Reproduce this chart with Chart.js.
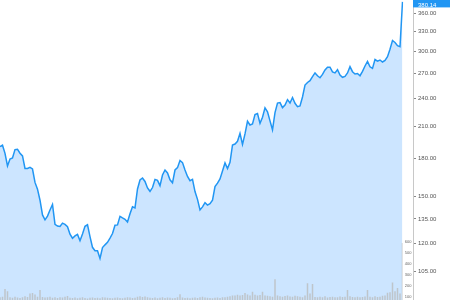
<!DOCTYPE html>
<html>
<head>
<meta charset="utf-8">
<script src="https://cdn.jsdelivr.net/npm/chart.js@4.4.1/dist/chart.umd.min.js"></script>
<style>
  html, body { margin: 0; padding: 0; background: #fff; }
  #wrap { width: 450px; height: 300px; position: relative; }
</style>
</head>
<body>
<div id="wrap"><canvas id="c"></canvas></div>
<script>
// closing prices
const prices = [
  190.5, 191.9, 184.6, 173.8, 179.7, 180.6, 187.9, 188.1, 184.7, 182.3,
  171.7, 171.7, 172.7, 171.3, 160.7, 155.6, 147.6, 137.6, 134.4, 136.8,
  140.9, 144.6, 131.6, 130.5, 130.2, 132.3, 131.5, 130.1, 125.5, 123.1,
  124.5, 125.4, 121.7, 125.7, 130.3, 131.3, 124.1, 117.9, 116.0, 116.0,
  111.8, 117.8, 119.3, 120.7, 123.2, 125.9, 131.0, 131.2, 136.7, 135.7,
  134.8, 133.0, 138.4, 143.0, 142.3, 155.7, 162.6, 164.1, 161.4, 156.5,
  154.0, 156.8, 163.0, 162.3, 158.2, 166.5, 170.5, 168.1, 162.7, 160.4,
  170.5, 172.4, 178.4, 176.6, 170.5, 165.3, 162.0, 163.0, 153.8, 148.2,
  140.9, 143.0, 145.9, 144.2, 145.2, 147.6, 157.5, 160.1, 163.4, 169.6,
  176.3, 171.6, 176.9, 192.1, 193.0, 195.5, 203.1, 192.6, 202.5, 215.1,
  211.3, 212.3, 222.0, 223.1, 213.0, 219.3, 229.3, 225.1, 215.5, 206.5,
  224.1, 234.6, 235.1, 229.6, 232.5, 238.5, 234.7, 240.9, 234.4, 230.6,
  231.4, 241.5, 255.7, 258.8, 261.0, 266.1, 270.9, 267.2, 264.7, 269.0,
  274.7, 278.4, 278.4, 272.2, 270.9, 275.1, 268.2, 265.3, 266.5, 270.8,
  279.1, 272.5, 269.5, 270.2, 267.3, 272.9, 280.0, 286.3, 278.9, 276.8,
  288.8, 286.5, 288.1, 285.4, 287.5, 292.6, 303.2, 316.2, 313.2, 308.5,
  307.0, 380.14
];

// volume, same days
const volumes = [
  95, 100, 170, 150, 95, 90, 100, 92, 88, 96,
  105, 98, 130, 134, 120, 100, 160, 98, 92, 95,
  100, 90, 94, 88, 96, 92, 100, 106, 90, 88,
  92, 86, 90, 95, 88, 84, 90, 92, 88, 90,
  86, 95, 92, 90, 88, 85, 90, 92, 88, 86,
  90, 94, 92, 88, 90, 100, 104, 98, 102, 96,
  90, 88, 92, 86, 90, 95, 88, 92, 90, 86,
  88, 94, 122, 92, 88, 90, 86, 90, 92, 88,
  95, 100, 92, 90, 88, 86, 90, 92, 88, 94,
  96, 100, 105, 110, 112, 118, 110, 115, 134, 120,
  112, 145, 118, 110, 116, 145, 112, 108, 104, 100,
  258, 110, 104, 100, 106, 110, 102, 100, 108, 104,
  100, 96, 110, 222, 130, 215, 98, 94, 100, 96,
  104, 92, 98, 100, 94, 96, 102, 98, 100, 160,
  104, 98, 96, 100, 94, 98, 102, 160, 100, 96,
  104, 98, 100, 108, 112, 135, 140, 228, 150, 180,
  130, 588
];

const days = prices.map((p, i) => i + 1);

const priceTicks = [105, 120, 135, 150, 180, 210, 240, 270, 300, 330, 360];
const volumeTicks = [100, 200, 300, 400, 500, 600];

const lineBlue = '#2196f3';

// blue box with the last price on the price axis
const lastPriceLabel = {
  id: 'lastPriceLabel',
  afterDraw(chart) {
    const s = chart.scales.y;
    const last = prices[prices.length - 1];
    const yPix = s.getPixelForValue(last);
    const ctx = chart.ctx;
    ctx.save();
    ctx.fillStyle = lineBlue;
    ctx.fillRect(s.left, yPix - 10, chart.width - s.left, 15.5);
    ctx.fillStyle = '#fff';
    ctx.font = '6px "Liberation Sans", Arial, sans-serif';
    ctx.textBaseline = 'middle';
    ctx.textAlign = 'left';
    ctx.fillText(last.toFixed(2), s.left + 5, yPix + 3);
    ctx.restore();
  }
};

const ctx = document.getElementById('c').getContext('2d');

new Chart(ctx, {
  data: {
    labels: days,
    datasets: [
      {
        type: 'line',
        label: 'Price',
        data: prices,
        yAxisID: 'y',
        borderColor: lineBlue,
        borderWidth: 1.5,
        backgroundColor: '#cce5ff',
        fill: 'start',
        pointRadius: 0,
        tension: 0,
        order: 0
      },
      {
        type: 'bar',
        label: 'Volume',
        data: volumes,
        yAxisID: 'yv',
        backgroundColor: 'rgba(185,185,185,0.75)',
        barPercentage: 0.6,
        categoryPercentage: 1,
        order: 1
      }
    ]
  },
  options: {
    responsive: true,
    maintainAspectRatio: false,
    animation: false,
    layout: { padding: 0 },
    scales: {
      x: {
        type: 'category',
        display: false,
        offset: false
      },
      yv: {
        type: 'linear',
        position: 'right',
        weight: 0,
        min: 70,
        max: 2797,
        grid: { display: false },
        border: { display: false },
        ticks: {
          mirror: true,
          padding: 9,
          autoSkip: false,
          color: '#666',
          font: { size: 4, family: '"Liberation Sans", Arial, sans-serif' },
          callback: (v) => v
        },
        afterBuildTicks: (scale) => {
          scale.ticks = volumeTicks.map(v => ({ value: v }));
        },
        afterFit: (scale) => {
          scale.width = 10.5;
          scale.paddingTop = 0;
          scale.paddingBottom = 0;
        }
      },
      y: {
        type: 'logarithmic',
        position: 'right',
        weight: 1,
        min: 91.7,
        max: 383.6,
        grid: {
          drawOnChartArea: false,
          tickLength: 3,
          color: '#888'
        },
        border: { display: true, color: '#c8c8c8', width: 1 },
        ticks: {
          padding: 2,
          autoSkip: false,
          color: '#555',
          font: { size: 6, family: '"Liberation Sans", Arial, sans-serif' },
          callback: (v) => Number(v).toFixed(2)
        },
        afterBuildTicks: (scale) => {
          scale.ticks = priceTicks.map(v => ({ value: v }));
        },
        afterFit: (scale) => {
          scale.width = 37;
          scale.paddingTop = 0;
          scale.paddingBottom = 0;
        }
      }
    },
    plugins: {
      legend: { display: false },
      tooltip: { enabled: false },
      title: { display: false },
      filler: { drawTime: 'beforeDatasetsDraw' }
    }
  },
  plugins: [lastPriceLabel]
});
</script>
</body>
</html>
